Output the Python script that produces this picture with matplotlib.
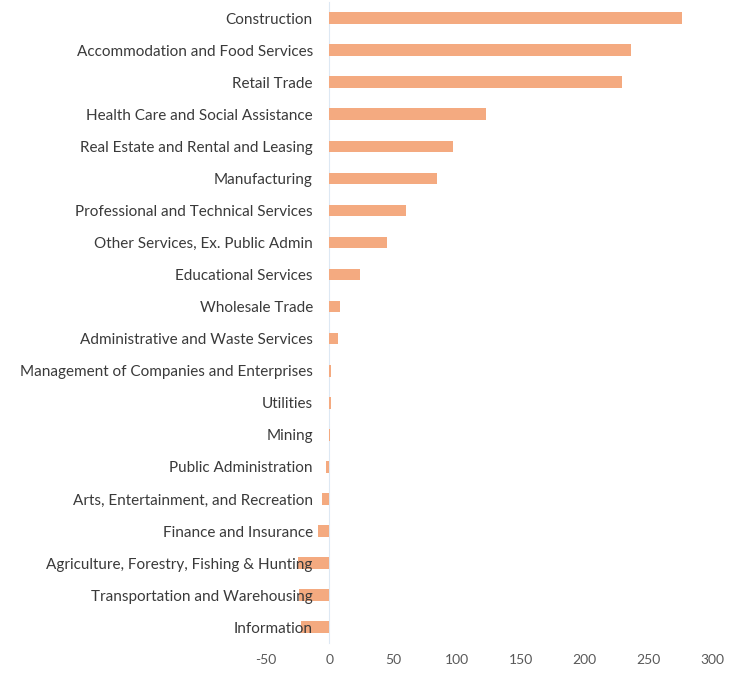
import numpy as np
import matplotlib
matplotlib.use('Agg')
from matplotlib import pyplot as plt

# industries, top to bottom as shown
industries = [
    'Construction',
    'Accommodation and Food Services',
    'Retail Trade',
    'Health Care and Social Assistance',
    'Real Estate and Rental and Leasing',
    'Manufacturing',
    'Professional and Technical Services',
    'Other Services, Ex. Public Admin',
    'Educational Services',
    'Wholesale Trade',
    'Administrative and Waste Services',
    'Management of Companies and Enterprises',
    'Utilities',
    'Mining',
    'Public Administration',
    'Arts, Entertainment, and Recreation',
    'Finance and Insurance',
    'Agriculture, Forestry, Fishing & Hunting',
    'Transportation and Warehousing',
    'Information',
]
values = [276, 236, 229, 123, 97, 84, 60, 45, 24, 8, 7, 1, 1, 0.5,
          -3, -6, -9, -25, -24, -22]
xticks = [-50, 0, 50, 100, 150, 200, 250, 300]

plt.rcParams['font.family'] = ['Lato', 'DejaVu Sans']
plt.rcParams['axes.unicode_minus'] = False

fig, ax = plt.subplots(figsize=(7.38, 6.75), dpi=100)
fig.subplots_adjust(left=0.36, right=0.965, top=0.997, bottom=0.047)

y = np.arange(len(industries))
ax.barh(y, values, height=0.36, color='#F4AA80', zorder=1)

ax.set_xlim(-50, 300)
ax.set_ylim(len(industries) - 0.5, -0.5)
ax.set_xticks(xticks)
ax.set_yticks(y)
ax.set_yticklabels(industries)

# y axis sits at zero, labels follow it
ax.spines['left'].set_position(('data', 0))
ax.spines['left'].set_color('#DDE8F3')
ax.spines['left'].set_zorder(0)
for s in ['top', 'right', 'bottom']:
    ax.spines[s].set_visible(False)

ax.tick_params(axis='y', length=0, pad=12, labelsize=11, labelcolor='#3A3A3A')
ax.tick_params(axis='x', length=0, pad=8, labelsize=10, labelcolor='#595959')
for lbl in ax.get_yticklabels():
    lbl.set_zorder(3)

plt.savefig('out.png', dpi=100)
